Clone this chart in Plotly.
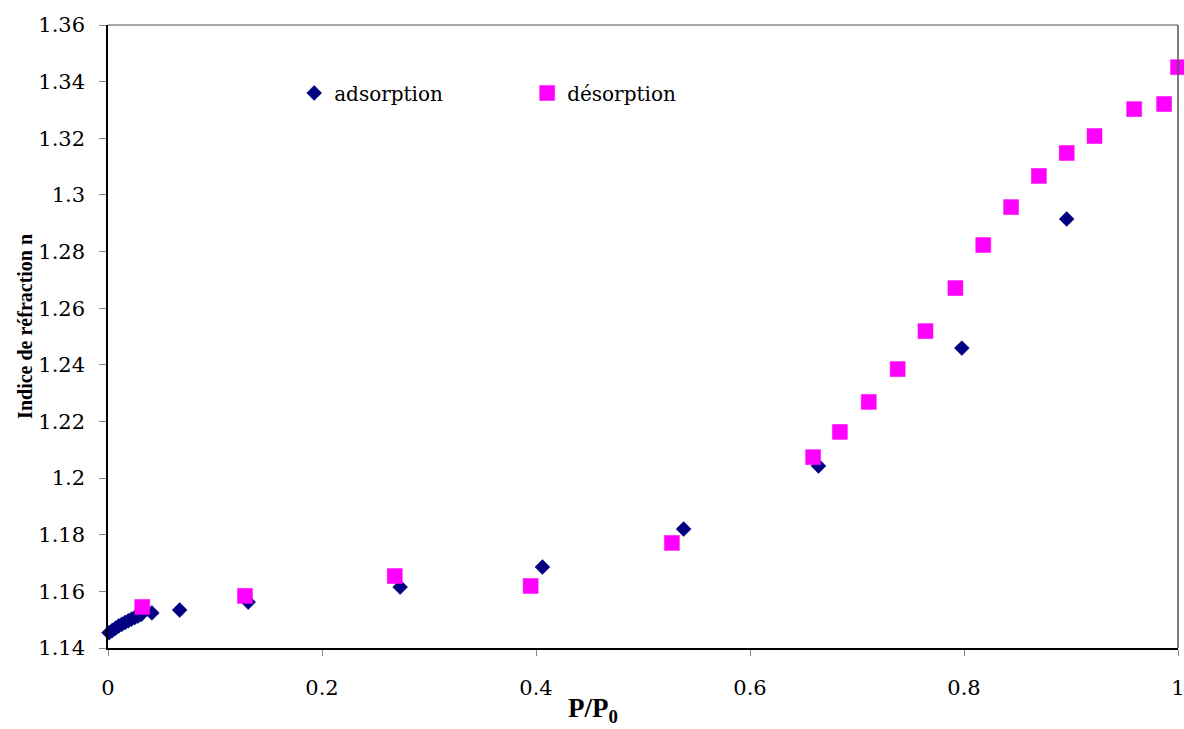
import plotly.graph_objects as go

# Adsorption (diamonds)
ads_x = [0.001, 0.004, 0.007, 0.010, 0.013, 0.016, 0.019, 0.022, 0.025, 0.028, 0.031,
         0.041, 0.067, 0.131, 0.273, 0.406, 0.538, 0.664, 0.798, 0.896]
ads_y = [1.1454, 1.1462, 1.1470, 1.1478, 1.1484, 1.1490, 1.1496, 1.1502, 1.1508, 1.1513, 1.1518,
         1.1524, 1.1534, 1.1562, 1.1615, 1.1686, 1.1820, 1.2043, 1.2459, 1.2915]

# Desorption (squares)
des_x = [0.032, 0.128, 0.268, 0.395, 0.527, 0.659, 0.684, 0.711, 0.738, 0.764,
         0.792, 0.818, 0.844, 0.870, 0.896, 0.922, 0.959, 0.987, 1.000]
des_y = [1.1545, 1.1584, 1.1654, 1.1619, 1.1771, 1.2074, 1.2163, 1.2269, 1.2385, 1.2519,
         1.2671, 1.2823, 1.2957, 1.3067, 1.3148, 1.3208, 1.3303, 1.3321, 1.3451]

x_ticks = [0, 0.2, 0.4, 0.6, 0.8, 1]
x_labels = ["0", "0.2", "0.4", "0.6", "0.8", "1"]
y_ticks = [1.14, 1.16, 1.18, 1.2, 1.22, 1.24, 1.26, 1.28, 1.3, 1.32, 1.34, 1.36]
y_labels = ["1.14", "1.16", "1.18", "1.2", "1.22", "1.24", "1.26", "1.28", "1.3", "1.32", "1.34", "1.36"]

SERIF = "DejaVu Serif"

fig = go.Figure()
fig.add_trace(go.Scatter(
    x=ads_x, y=ads_y, mode="markers", name="adsorption",
    marker=dict(symbol="diamond", size=11.5, color="#000080",
                line=dict(color="#000080", width=0.5)),
    cliponaxis=False,
))
fig.add_trace(go.Scatter(
    x=des_x, y=des_y, mode="markers", name="désorption",
    marker=dict(symbol="square", size=15, color="#FF00FF",
                line=dict(color="#FF00FF", width=0.5)),
    cliponaxis=False,
))

fig.update_layout(
    width=1184, height=729,
    margin=dict(l=108, r=6, t=25, b=81, autoexpand=False),
    paper_bgcolor="white", plot_bgcolor="white",
    font=dict(family=SERIF, size=21, color="black"),
    showlegend=True,
    legend=dict(
        orientation="h", x=0.174, y=0.891, xanchor="left", yanchor="middle",
        entrywidth=188, entrywidthmode="pixels",
        font=dict(family=SERIF, size=20, color="black"),
        bgcolor="rgba(0,0,0,0)", itemwidth=30,
    ),
    xaxis=dict(
        range=[0, 1.0000001], tickvals=x_ticks, ticktext=x_labels,
        showgrid=False, zeroline=False, automargin=False,
        showline=True, linecolor="black", linewidth=1.5,
        ticks="outside", ticklen=6, tickcolor="#888888", tickwidth=1,
        tickfont=dict(family=SERIF, size=21), ticklabelstandoff=14,
        ticklabeloverflow="allow",
    ),
    yaxis=dict(
        range=[1.14, 1.36], tickvals=y_ticks, ticktext=y_labels,
        showgrid=False, zeroline=False, automargin=False,
        showline=True, linecolor="black", linewidth=1.5,
        ticks="outside", ticklen=7, tickcolor="#888888", tickwidth=1,
        tickfont=dict(family=SERIF, size=21), ticklabelstandoff=10,
        ticklabeloverflow="allow",
    ),
    shapes=[
        dict(type="line", xref="paper", yref="paper", x0=0, x1=1, y0=1, y1=1,
             line=dict(color="#aaaaaa", width=2)),
        dict(type="line", xref="paper", yref="paper", x0=1, x1=1, y0=0, y1=1,
             line=dict(color="#555555", width=1.5)),
    ],
    annotations=[
        dict(text="<b>P/P<sub>0</sub></b>", xref="paper", yref="paper",
             x=0.453, y=-0.1, xanchor="center", yanchor="middle", showarrow=False,
             font=dict(family="Liberation Serif", size=27, color="black")),
        dict(text="<b>Indice de réfraction n</b>", xref="paper", yref="paper",
             x=-0.0776, y=0.517, xanchor="center", yanchor="middle", showarrow=False,
             textangle=-90,
             font=dict(family="Liberation Serif", size=20, color="black")),
    ],
)

fig.write_html(
    "out.html",
    config={"displayModeBar": False},
    post_script="document.body.style.margin='0';document.body.style.overflow='hidden';",
)
